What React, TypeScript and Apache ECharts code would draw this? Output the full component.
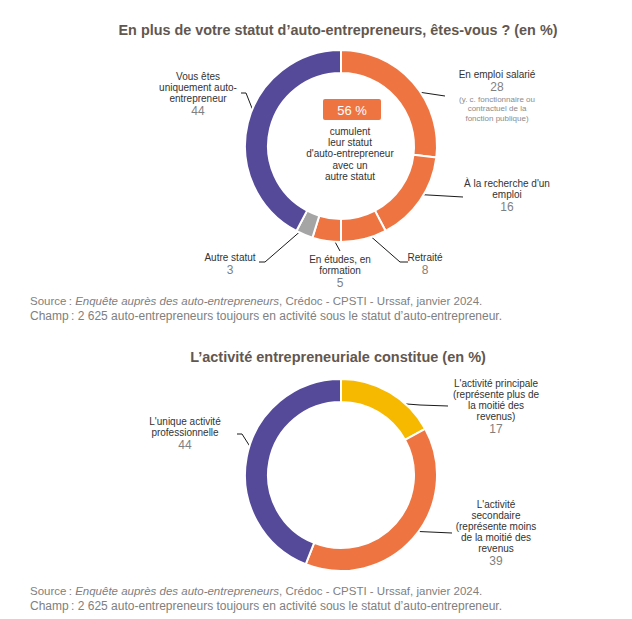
import React, { useEffect, useRef } from 'react';
import * as echarts from 'echarts';

// ---- Data ----
const statutCategories = [
  'En emploi salarié',
  "À la recherche d'un\nemploi",
  'Retraité',
  'En études, en\nformation',
  'Autre statut',
  'Vous êtes\nuniquement auto-\nentrepreneur',
];
const statutValues = [28, 16, 8, 5, 3, 44];
const statutNotes = ['(y. c. fonctionnaire ou\ncontractuel de la\nfonction publique)', '', '', '', '', ''];

const activiteCategories = [
  "L'activité principale\n(représente plus de\nla moitié des\nrevenus)",
  "L'activité\nsecondaire\n(représente moins\nde la moitié des\nrevenus",
  "L'unique activité\nprofessionnelle",
];
const activiteValues = [17, 39, 44];

const title1 = 'En plus de votre statut d’auto-entrepreneurs, êtes-vous ? (en %)';
const title2 = 'L’activité entrepreneuriale constitue (en %)';
const centerHighlight = '56 %';
const centerText = "cumulent\nleur statut\nd'auto-entrepreneur\navec un\nautre statut";
const sourcePrefix = 'Source\u202f: ';
const sourceItalic = 'Enquête auprès des auto-entrepreneurs';
const sourceSuffix = ', Crédoc - CPSTI - Urssaf, janvier 2024.';
const champText = 'Champ\u202f: 2 625 auto-entrepreneurs toujours en activité sous le statut d’auto-entrepreneur.';

// ---- Styles ----
const ORANGE = '#EE7542';
const PURPLE = '#554A9A';
const GREY = '#A5A5A5';
const YELLOW = '#F7B800';
const statutColors = [ORANGE, ORANGE, ORANGE, ORANGE, GREY, PURPLE];
const activiteColors = [YELLOW, ORANGE, PURPLE];
const FONT = "'Liberation Sans', Arial, sans-serif";
const TITLE_COLOR = '#62574F';
const VALUE_COLOR = '#7F7F7F';

const R_IN = 73;
const R_OUT = 96;
const center1: [number, number] = [341, 146];
const center2: [number, number] = [341, 475];

type Anchor = { x: number; y: number; knee: [number, number]; end: [number, number] };
const anchors1: Anchor[] = [
  { x: 497, y: 68.5, knee: [425, 93], end: [445, 96] },
  { x: 507, y: 177.5, knee: [437, 195.5], end: [463, 197] },
  { x: 425, y: 251.5, knee: [400, 262], end: [408, 262] },
  { x: 340, y: 253.5, knee: [334, 240], end: [340, 251] },
  { x: 230, y: 251.5, knee: [265, 262], end: [259, 262] },
  { x: 198, y: 70.5, knee: [246, 93], end: [241, 93] },
];
const anchors2: Anchor[] = [
  { x: 496, y: 377.5, knee: [420, 405], end: [448, 406] },
  { x: 496, y: 498.5, knee: [430, 532], end: [452, 533] },
  { x: 185, y: 415.5, knee: [242, 434], end: [237, 434] },
];

const rich = {
  n: { fontFamily: FONT, fontSize: 10, lineHeight: 11, color: '#333333', align: 'center' },
  v: { fontFamily: FONT, fontSize: 12, lineHeight: 15, color: VALUE_COLOR, align: 'center' },
  s: { fontFamily: FONT, fontSize: 8, lineHeight: 9.5, color: '#8C8C8C', align: 'center' },
};

function makeFormatter(notes: string[]) {
  return (p: any) => {
    const nameLines = String(p.name).split('\n').map((l: string) => `{n|${l}}`);
    const out = [...nameLines, `{v|${p.value}}`];
    const note = notes[p.dataIndex];
    if (note) note.split('\n').forEach((l) => out.push(`{s|${l}}`));
    return out.join('\n');
  };
}

function makeLayout(values: number[], center: [number, number], anchors: Anchor[]) {
  return (params: any) => {
    const i = params.dataIndex;
    const a = anchors[i];
    const total = values.reduce((s, v) => s + v, 0);
    const before = values.slice(0, i).reduce((s, v) => s + v, 0);
    const ang = ((before + values[i] / 2) / total) * 2 * Math.PI;
    const r = (R_IN + R_OUT) / 2;
    const sx = center[0] + r * Math.sin(ang);
    const sy = center[1] - r * Math.cos(ang);
    return {
      x: a.x,
      y: a.y,
      align: 'center',
      verticalAlign: 'top',
      labelLinePoints: [[sx, sy], a.knee, a.end],
    };
  };
}

function pieSeries(
  names: string[],
  values: number[],
  colors: string[],
  notes: string[],
  center: [number, number],
  anchors: Anchor[]
) {
  return {
    type: 'pie',
    center,
    radius: [R_IN, R_OUT],
    startAngle: 90,
    clockwise: true,
    avoidLabelOverlap: false,
    emphasis: { disabled: true },
    itemStyle: { borderColor: '#ffffff', borderWidth: 2 },
    label: {
      show: true,
      position: 'outside',
      color: VALUE_COLOR,
      fontFamily: FONT,
      formatter: makeFormatter(notes),
      rich,
    },
    labelLine: { show: true, length: 10, length2: 10, lineStyle: { color: '#1A1A1A', width: 1 } },
    labelLayout: makeLayout(values, center, anchors),
    data: names.map((name, i) => ({
      name,
      value: values[i],
      itemStyle: { color: colors[i] },
    })),
  };
}

function sourceGraphics(y1: number, y2: number) {
  const base = { fontFamily: FONT, fontSize: 11.5, fill: '#808080' };
  return [
    {
      type: 'text',
      x: 30,
      y: y1,
      style: {
        text: `{a|${sourcePrefix}}{i|${sourceItalic}}{a|${sourceSuffix}}`,
        verticalAlign: 'middle',
        rich: {
          a: { ...base },
          i: { ...base, fontStyle: 'italic' },
        },
      },
    },
    {
      type: 'text',
      x: 30,
      y: y2,
      style: { text: champText, verticalAlign: 'middle', font: `12px ${FONT}`, fill: '#808080' },
    },
  ];
}

export default function App() {
  const ref = useRef<HTMLDivElement>(null);
  useEffect(() => {
    if (!ref.current) return;
    const chart = echarts.init(ref.current, null, { renderer: 'svg' });
    chart.setOption({
      animation: false,
      backgroundColor: '#ffffff',
      series: [
        pieSeries(statutCategories, statutValues, statutColors, statutNotes, center1, anchors1),
        pieSeries(
          activiteCategories,
          activiteValues,
          activiteColors,
          activiteCategories.map(() => ''),
          center2,
          anchors2
        ),
      ],
      graphic: [
        {
          type: 'text',
          x: 338,
          y: 30,
          style: {
            text: title1,
            align: 'center',
            verticalAlign: 'middle',
            font: `bold 14.4px ${FONT}`,
            fill: TITLE_COLOR,
          },
        },
        {
          type: 'text',
          x: 338,
          y: 357,
          style: {
            text: title2,
            align: 'center',
            verticalAlign: 'middle',
            font: `bold 14.5px ${FONT}`,
            fill: TITLE_COLOR,
          },
        },
        {
          type: 'rect',
          shape: { x: 323, y: 99, width: 58, height: 21, r: 2 },
          style: { fill: ORANGE },
        },
        {
          type: 'text',
          x: 352,
          y: 110,
          style: {
            text: centerHighlight,
            align: 'center',
            verticalAlign: 'middle',
            font: `13px ${FONT}`,
            fill: '#ffffff',
          },
        },
        {
          type: 'text',
          x: 350,
          y: 125.5,
          style: {
            text: centerText,
            align: 'center',
            verticalAlign: 'top',
            font: `10px ${FONT}`,
            lineHeight: 11.3,
            fill: '#333333',
          },
        },
        ...sourceGraphics(301, 316),
        ...sourceGraphics(591, 606),
      ],
    });
    return () => chart.dispose();
  }, []);
  return (
    <div
      ref={ref}
      style={{ position: 'fixed', left: 0, top: 0, width: 632, height: 619, background: '#ffffff' }}
    />
  );
}
